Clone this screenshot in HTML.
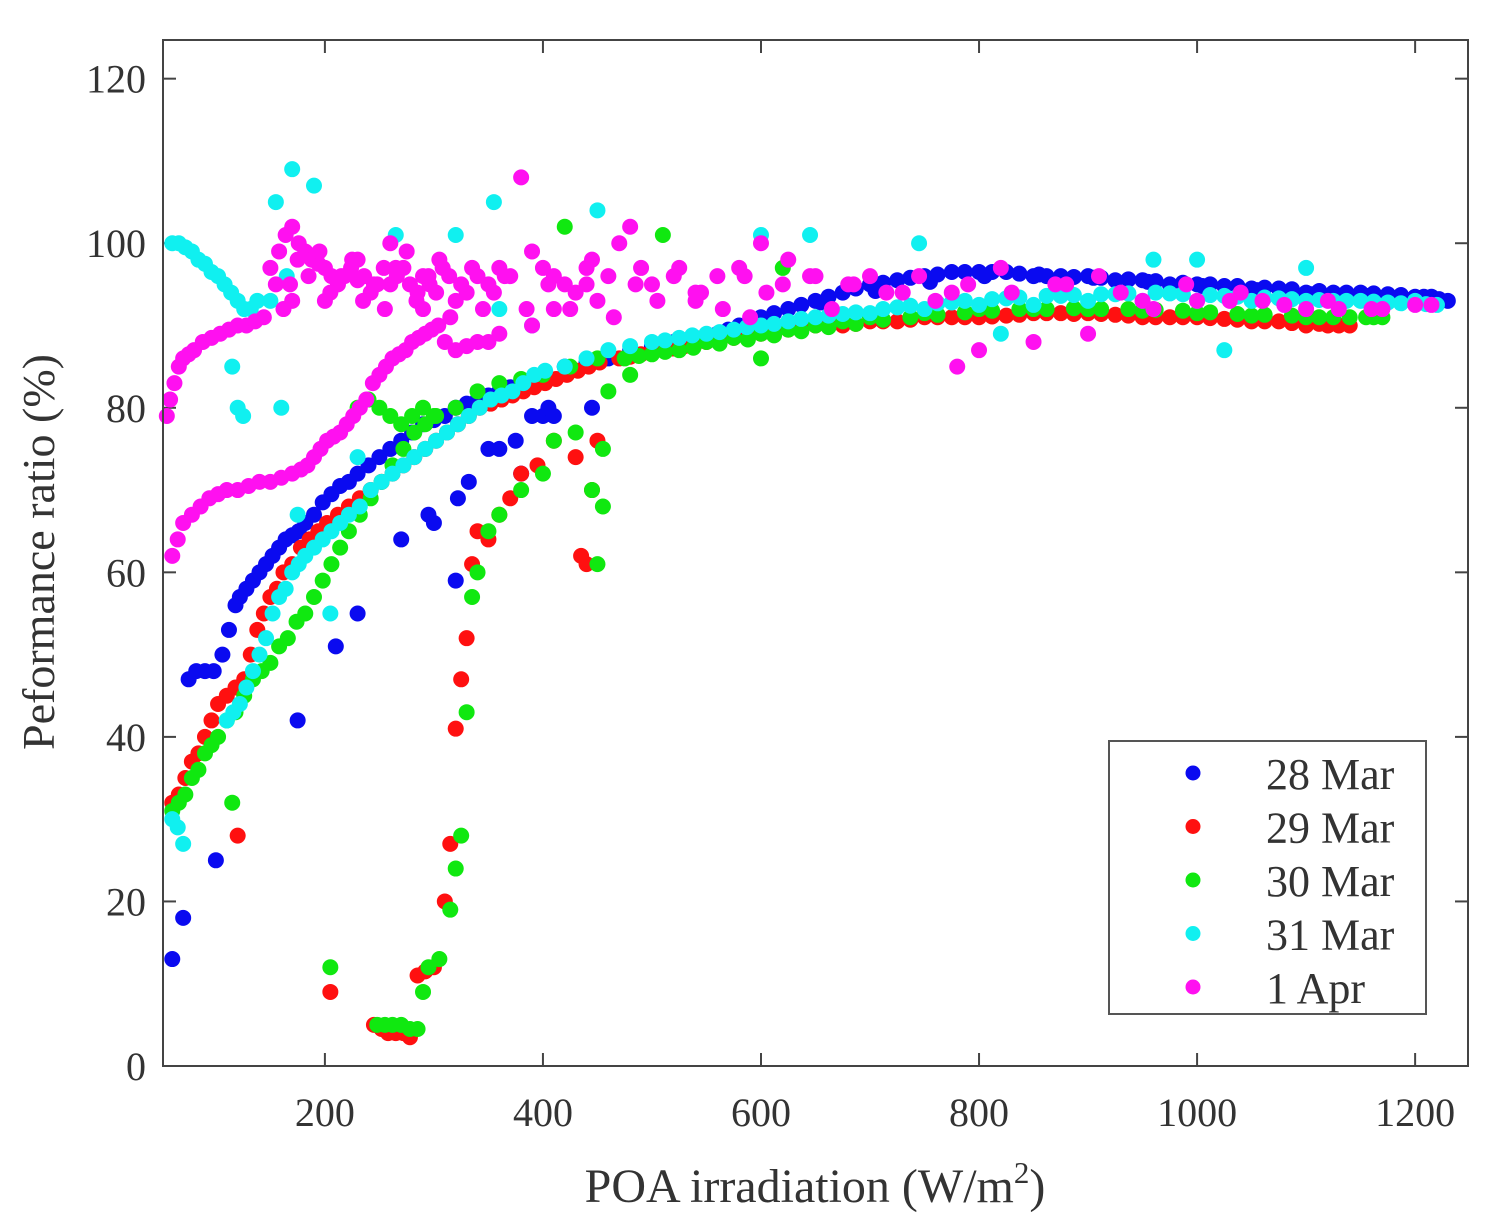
<!DOCTYPE html>
<html><head><meta charset="utf-8"><style>
body{margin:0;background:#fff}
svg text{font-family:"Liberation Serif",serif;fill:#333}
</style></head><body>
<svg id="chart" width="1497" height="1227" xmlns="http://www.w3.org/2000/svg">
<rect x="0" y="0" width="1497" height="1227" fill="#fff"/>
<g id="grid-ticks"></g>
<g id="marks"></g>
<rect x="163" y="40" width="1305" height="1026" fill="none" stroke="#444" stroke-width="2"/>
<g id="labels"></g>
<text x="815" y="1202" font-size="48" text-anchor="middle">POA irradiation (W/m<tspan dy="-19" font-size="31">2</tspan><tspan dy="19">)</tspan></text>
<text transform="translate(54,552) rotate(-90)" font-size="46" text-anchor="middle">Peformance ratio (%)</text>
<g>
<rect x="1109" y="741" width="317" height="273" fill="#fff" stroke="#555" stroke-width="2"/>
<g id="legend-entries"></g>
</g>
</svg>
<script>
const xTicks=[200,400,600,800,1000,1200];
const yTicks=[0,20,40,60,80,100,120];
const seriesNames=["28 Mar","29 Mar","30 Mar","31 Mar","1 Apr"];
const seriesColors=["#0a0af0","#ff1010","#10e810","#10f0f0","#ff10f0"];
const blueX=[60,70,100,75,82,90,98,106,112,118,122,128,134,140,146,152,158,164,170,176,182,190,198,206,214,222,230,240,250,260,270,280,290,300,310,320,330,340,350,360,370,380,390,400,420,440,460,480,500,520,540,560,580,600,625,650,675,700,725,750,775,800,825,850,875,900,925,950,975,1000,1025,1050,1075,1100,1125,1150,1175,1200,1215,1230,175,210,230,270,295,300,320,322,332,350,360,375,390,400,405,410,445,380,
510,530,550,570,590,612,637,662,687,712,737,762,787,812,837,862,887,912,937,962,987,1012,1037,1062,1087,1112,1137,1162,1187,1208,1222,655,705,755,805,855,905,955,1005,1055,1105,1155];
const blueY=[13,18,25,47,48,48,48,50,53,56,57,58,59,60,61,62,63,64,64.5,65,66,67,68.5,69.5,70.5,71,72,73,74,75,76,77,78,78.5,79,80,80.5,81,81.5,82,82.5,83,83.5,84,85,85.5,86,87,87.5,88,88.5,89,90,91,92,93,94,95,95.5,96,96.5,96.5,96.5,96,96,96,95.5,95.5,95,95,94.8,94.5,94.5,94,94,94,93.8,93.5,93.5,93,42,51,55,64,67,66,59,69,71,75,75,76,79,79,80,79,80,72,
87.8,88.2,88.8,89.5,90.5,91.5,92.5,93.5,94.5,95.2,95.8,96.2,96.5,96.5,96.3,96,95.9,95.8,95.6,95.4,95.2,95,94.8,94.6,94.4,94.2,94,93.9,93.7,93.5,93.2,92.8,94.2,95.3,96,96.2,95.8,95.3,94.8,94.3,93.8,93.6];
const redX=[60,66,72,78,84,90,96,102,110,118,126,132,138,144,150,156,162,170,178,186,194,202,212,222,232,242,252,262,272,282,292,302,312,322,332,342,352,362,372,382,392,402,412,422,432,442,452,470,490,510,530,550,575,600,625,650,675,700,725,750,775,800,825,850,875,900,925,950,975,1000,1025,1050,1075,1100,1120,1140,120,205,245,252,258,265,272,278,285,292,300,310,315,320,325,330,335,340,350,360,370,380,395,410,430,435,445,450,440,
480,500,520,540,562,587,612,637,662,687,712,737,762,787,812,837,862,887,912,937,962,987,1012,1037,1062,1087,1112,1130];
const redY=[32,33,35,37,38,40,42,44,45,46,47,50,53,55,57,58,60,61,63,64,65,66,67,68,69,70,71,72,73,74,75,76,77,78,79,80,80.5,81,81.5,82,82.5,83,83.5,84,84.5,85,85.5,86,86.5,87,87.5,88,88.5,89,89.5,90,90,90.5,90.5,91,91,91,91.2,91.5,91.5,91.5,91.3,91,91,91,90.8,90.5,90.5,90,90,90,28,9,5,4.5,4,4,4,3.5,11,11.5,12,20,27,41,47,52,61,65,64,67,69,72,73,76,74,62,70,76,61,
86.2,86.8,87.2,87.8,88.2,88.8,89.2,89.7,90,90.2,90.5,90.7,91,91,91.1,91.3,91.5,91.4,91.4,91.2,91,91,90.9,90.7,90.5,90.3,90.2,90];
const greenX=[60,66,72,78,84,90,96,102,110,118,126,134,142,150,158,166,174,182,190,198,206,214,222,232,242,252,262,272,282,292,302,230,240,250,260,270,280,290,300,320,340,360,380,400,425,450,475,500,525,550,575,600,625,650,675,700,750,800,850,900,950,1000,1050,1100,1140,1170,115,205,248,255,262,270,278,285,290,295,305,315,320,325,330,335,340,350,360,380,400,410,430,445,450,455,455,420,510,620,600,460,480,
488,512,538,562,588,612,637,662,687,712,737,762,787,812,837,862,887,912,937,962,987,1012,1037,1062,1087,1112,1125,1155,1162];
const greenY=[31,32,33,35,36,38,39,40,42,43,45,47,48,49,51,52,54,55,57,59,61,63,65,67,69,71,73,75,77,78,79,80,81,80,79,78,79,80,79,80,82,83,83.5,84,85,86,86,86.5,87,88,88.5,89,89.5,90,90.5,91,91.5,92,92,92,91.8,91.5,91.2,91,91,91,32,12,5,5,5,5,4.5,4.5,9,12,13,19,24,28,43,57,60,65,67,70,72,76,77,70,61,68,75,102,101,97,86,82,84,
86.3,86.8,87.3,87.8,88.3,88.8,89.3,89.8,90.2,90.7,91,91.3,91.6,91.8,92,92,92.1,92,92,91.9,91.8,91.6,91.4,91.3,91.2,91,91,91,91];
const cyanX=[60,66,72,78,84,90,96,102,108,114,120,126,132,138,115,120,125,160,155,170,190,165,150,60,65,70,110,116,122,128,134,140,146,152,158,164,170,176,182,190,198,206,214,222,232,242,252,262,272,282,292,302,312,322,332,342,352,362,372,382,392,402,420,440,460,480,500,525,550,575,600,650,700,750,800,850,900,950,1000,1050,1100,1150,1200,1220,205,230,175,355,320,265,450,600,645,745,960,1000,1025,820,360,390,1100,
512,537,562,587,612,625,637,662,675,687,712,725,737,762,775,787,812,825,837,862,875,887,912,925,937,962,975,987,1012,1025,1037,1062,1075,1087,1112,1125,1137,1162,1175,1187,1210];
const cyanY=[100,100,99.5,99,98,97.5,96.5,96,95,94,93,92,92,93,85,80,79,80,105,109,107,96,93,30,29,27,42,43,44,46,48,50,52,55,57,58,60,61,62,63,64,65,66,67,68,70,71,72,73,74,75,76,77,78,79,80,81,81.5,82,83,84,84.5,85,86,87,87.5,88,88.5,89,89.5,90,91,91.5,92,92.5,92.5,93,93,93,93,93,93,93,92.5,55,74,67,105,101,101,104,101,101,100,98,98,87,89,92,90,97,
88.2,88.8,89.2,89.8,90.2,90.5,90.8,91.2,91.4,91.6,92,92.2,92.4,92.7,92.8,93,93.2,93.3,93.4,93.6,93.6,93.7,93.8,93.8,93.9,94,93.9,93.8,93.7,93.6,93.5,93.4,93.3,93.2,93.1,93,93,92.9,92.8,92.7,92.6];
const magX=[55,58,62,66,70,75,80,88,96,104,112,120,128,136,144,60,65,70,78,86,94,102,110,120,130,140,150,160,170,178,184,190,196,202,208,214,220,226,232,238,244,250,256,262,268,274,280,286,292,298,304,310,320,330,340,350,360,150,158,164,170,176,182,188,194,200,206,212,218,224,230,236,242,248,254,260,266,272,278,284,290,296,302,308,314,320,330,340,350,360,370,380,390,400,410,420,430,440,450,460,470,480,490,500,520,540,560,580,600,620,650,680,700,730,760,775,780,800,820,850,880,900,930,960,1000,1030,1060,1100,1130,1160,1200,170,200,230,260,290,390,410,440,540,590,
155,162,168,175,185,195,205,215,225,235,245,255,265,275,285,295,305,315,325,335,345,355,365,385,405,425,445,465,485,505,525,545,565,585,605,625,645,665,685,715,745,790,830,870,910,950,990,1040,1080,1120,1170,1215];
const magY=[79,81,83,85,86,86.5,87,88,88.5,89,89.5,90,90,90.5,91,62,64,66,67,68,69,69.5,70,70,70.5,71,71,71.5,72,72.5,73,74,75,76,76.5,77,78,79,80,81,83,84,85,86,86.5,87,88,88.5,89,89.5,90,88,87,87.5,88,88,89,97,99,101,102,100,99,98,97.5,97,96,95,96,97,95.5,96,94,95,97,95,96,97,95,93,96,95,94,97,96,93,94,96,95,97,96,108,99,97,96,95,94,97,93,96,100,102,97,95,96,94,96,97,100,95,96,95,96,94,93,94,85,87,97,88,95,89,94,92,93,93,93,92,92,92,92.5,93,93,98,100,92,90,92,95,93,91,95,92,
95,98,96,99,94,96,98,93,95,92,97,99,94,96,98,91,95,97,92,94,96,92,95,92,98,91,95,93,97,94,92,96,94,98,96,92,95,94,96,95,94,95,96,93,95,94,92.5,93,92,92.5,92,93];
const xMin=51.5, xMax=1248.5, yMin=0, yMax=124.7;
const L=163,R=1468,T=40,B=1066;
function sx(v){return L+(v-xMin)/(xMax-xMin)*(R-L);}
function sy(v){return B-(v-yMin)/(yMax-yMin)*(B-T);}
const NS="http://www.w3.org/2000/svg";
function mk(tag,attrs,parent){const e=document.createElementNS(NS,tag);for(const k in attrs)e.setAttribute(k,attrs[k]);parent.appendChild(e);return e;}
const tg=document.getElementById('grid-ticks'), lg=document.getElementById('labels');
xTicks.forEach(t=>{
  const x=sx(t);
  const a=mk('line',{x1:x,x2:x,y1:B,y2:B-13,stroke:'#444','stroke-width':2},tg);
  
  
  const b=mk('line',{x1:x,x2:x,y1:T,y2:T+13,stroke:'#444','stroke-width':2},tg);
  
  
  const tx=mk('text',{x:x,y:1126,'font-size':40,'text-anchor':'middle'},lg);tx.textContent=t;
  
  
});
yTicks.forEach(t=>{
  const y=sy(t);
  const a=mk('line',{x1:L,x2:L+13,y1:y,y2:y,stroke:'#444','stroke-width':2},tg);
  
  
  const b=mk('line',{x1:R,x2:R-13,y1:y,y2:y,stroke:'#444','stroke-width':2},tg);
  
  
  const tx=mk('text',{x:146,y:y+14,'font-size':40,'text-anchor':'end'},lg);tx.textContent=t;
  
  
});
const allX=[blueX,redX,greenX,cyanX,magX], allY=[blueY,redY,greenY,cyanY,magY];
const mg=document.getElementById('marks');
allX.forEach((xs,i)=>{
  const g=mk('g',{},mg);
  
  
  xs.forEach((xv,j)=>{
    const c=mk('circle',{cx:sx(xv),cy:sy(allY[i][j]),r:8,fill:seriesColors[i]},g);
    
    
  });
});
const le=document.getElementById('legend-entries');
seriesNames.forEach((n,i)=>{
  const y=773+i*53.5;
  const c=mk('circle',{cx:1193,cy:y,r:7.5,fill:seriesColors[i]},le);
  
  
  const t=mk('text',{x:1266,y:y+16,'font-size':44},le);t.textContent=n;
  
  
});
</script>
</body></html>
